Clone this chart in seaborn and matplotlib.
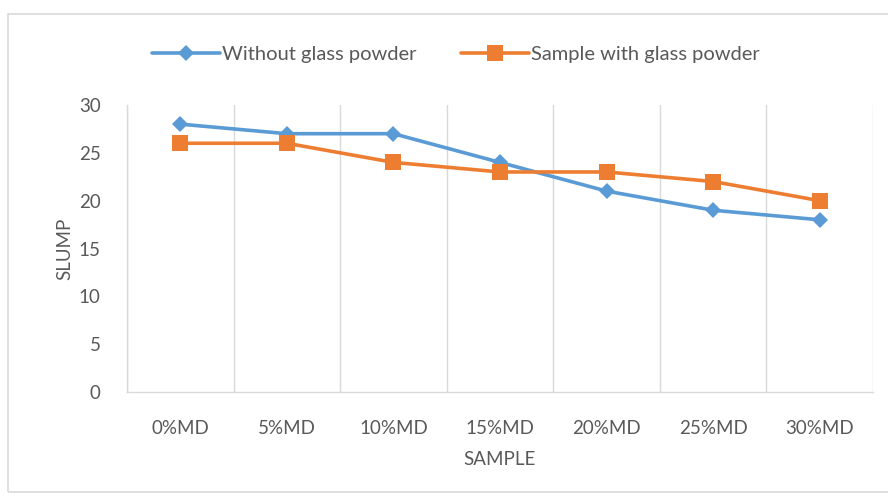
import matplotlib
matplotlib.use("Agg")
import matplotlib.pyplot as plt
from matplotlib.patches import Rectangle
from matplotlib.ticker import MultipleLocator
import pandas as pd
import seaborn as sns

samples = ["0%MD", "5%MD", "10%MD", "15%MD", "20%MD", "25%MD", "30%MD"]
without_glass = [28, 27, 27, 24, 21, 19, 18]
with_glass = [26, 26, 24, 23, 23, 22, 20]
series_names = ["Without glass powder", "Sample with glass powder"]

df = pd.DataFrame({
    "SAMPLE": samples * 2,
    "SLUMP": without_glass + with_glass,
    "series": [series_names[0]] * len(samples) + [series_names[1]] * len(samples),
})

sns.set_style("white")
plt.rcParams["font.family"] = ["Lato", "DejaVu Sans"]
text_gray = "#595959"
grid_gray = "#D9D9D9"

fig = plt.figure(figsize=(8.88, 4.96), dpi=100)
ax = fig.add_axes([127 / 888, 1 - 392 / 496, (873 - 127) / 888, (392 - 105) / 496])

palette = {series_names[0]: "#5B9BD5", series_names[1]: "#ED7D31"}
markers = {series_names[0]: "D", series_names[1]: "s"}
sizes_map = {series_names[0]: 8, series_names[1]: 11}

for name in series_names:
    sub = df[df["series"] == name]
    sns.lineplot(data=sub, x="SAMPLE", y="SLUMP", ax=ax, color=palette[name],
                 marker=markers[name], markersize=sizes_map[name],
                 markeredgewidth=0, linewidth=2.6, label=name, sort=False)

ax.set_xlim(-0.5, len(samples) - 0.5)
ax.set_ylim(0, 30)
ax.yaxis.set_major_locator(MultipleLocator(5))
ax.xaxis.set_minor_locator(MultipleLocator(1, offset=0.5))
ax.grid(which="minor", axis="x", color=grid_gray, linewidth=1)
ax.grid(which="major", axis="y", visible=False)
ax.grid(which="major", axis="x", visible=False)

for side in ["top", "right"]:
    ax.spines[side].set_visible(False)
for side in ["left", "bottom"]:
    ax.spines[side].set_color(grid_gray)
    ax.spines[side].set_linewidth(1)

ax.tick_params(axis="both", which="both", length=0, colors=text_gray, labelsize=13.5)
ax.tick_params(axis="x", pad=20)
ax.tick_params(axis="y", pad=19)
ax.set_xticks(range(len(samples)))
ax.set_xticklabels(samples)

ax.set_xlabel("SAMPLE", color=text_gray, fontsize=13.5, labelpad=10)
ax.set_ylabel("SLUMP", color=text_gray, fontsize=13.5, labelpad=4)

ax.legend(loc="center", bbox_to_anchor=(0.441, 1.175), ncol=2, frameon=False,
          fontsize=14.5, labelcolor=text_gray, handlelength=3.4, columnspacing=2.2,
          handletextpad=0.1)

fig.patches.append(Rectangle((8 / 888, 4 / 496), 1.0, 1 - 18 / 496, transform=fig.transFigure,
                             fill=False, edgecolor="#D9D9D9", linewidth=1.2))

fig.savefig("out.png", dpi=100)
